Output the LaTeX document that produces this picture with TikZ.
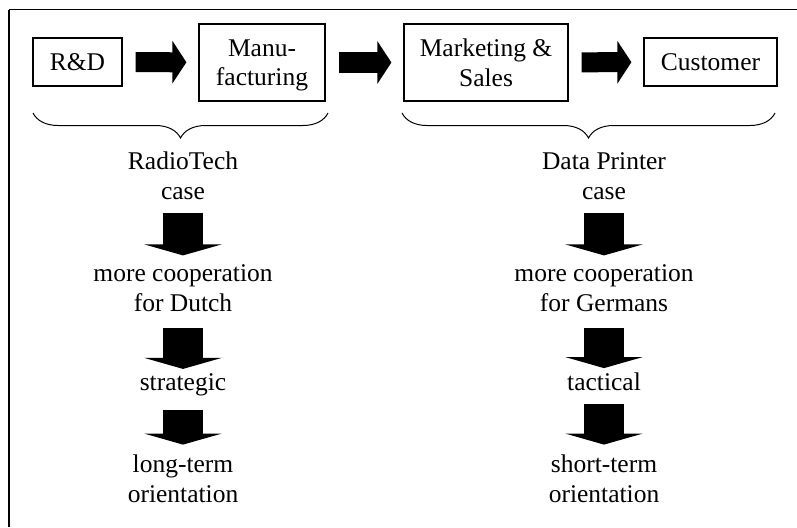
\documentclass[tikz,border=0pt]{standalone}
\usepackage{fontspec}
\setmainfont{Liberation Serif}
\usetikzlibrary{arrows.meta, decorations.pathreplacing}

\begin{document}
\begin{tikzpicture}[%
        x = 1pt, y = -1pt,
        line cap = butt,
        font = \fontsize{25.5}{29.5}\selectfont,
        box/.style = {draw, line width = 1.2pt, inner sep = 0pt, align = center, text depth = 0pt},
        stage/.style = {inner sep = 0pt, align = center, anchor = base},
        fatright/.style = {line width = 20pt, -{Triangle[width = 42pt, length = 14pt]},
            shorten < = 13pt, shorten > = 12pt},
        fatdown/.style = {line width = 40pt, -{Triangle[width = 77pt, length = 11pt]}},
        curly/.style = {decorate, decoration = {brace, mirror, amplitude = 25pt},
            line width = 1pt}
    ]
        \useasboundingbox (0, 0) rectangle (797, 527);

        % The frame, cut off at the right and at the bottom.
        \draw[line width = 1pt] (8.5, 10) to (797, 10);
        \draw[line width = 2pt] (8.5, 10) to (8.5, 527);

        % The value chain.
        \node[box, minimum width = 89pt, minimum height = 48pt] (rd) at (77.5, 62) {R\&D};
        \node[box, minimum width = 126pt, minimum height = 77pt] (manu) at (262, 62.5) {Manu-\\facturing};
        \node[box, minimum width = 164pt, minimum height = 77pt] (mkt) at (486, 62.5) {Marketing \&\\Sales};
        \node[box, minimum width = 133pt, minimum height = 48pt] (cust) at (710.5, 62) {Customer};

        \draw[fatright] (rd) to (manu);
        \draw[fatright] (manu) to (mkt);
        \draw[fatright] (mkt) to (cust);

        % Braces over the two cases.
        \draw[curly] (33, 113) to (328, 113);
        \draw[curly] (402, 113) to (775, 113);

        % The RadioTech column.
        \node[stage] (rt) at (183, 199) {RadioTech\\case};
        \node[stage] (rtcoop) at (183, 311) {more cooperation\\for Dutch};
        \node[stage] (rtkind) at (183, 390) {strategic};
        \node[stage] (rtterm) at (183, 502) {long-term\\orientation};

        \draw[fatdown, shorten < = 14pt, shorten > = 9pt] (rt) to (rtcoop);
        \draw[fatdown, shorten < = 17pt, shorten > = 4pt] (rtcoop) to (rtkind);
        \draw[fatdown, shorten < = 14pt, shorten > = 10pt] (rtkind) to (rtterm);

        % The Data Printer column.
        \node[stage] (dp) at (604, 199) {Data Printer\\case};
        \node[stage] (dpcoop) at (604, 311) {more cooperation\\for Germans};
        \node[stage] (dpkind) at (604, 390) {tactical};
        \node[stage] (dpterm) at (604, 502) {short-term\\orientation};

        \draw[fatdown, shorten < = 14pt, shorten > = 9pt] (dp) to (dpcoop);
        \draw[fatdown, shorten < = 17pt, shorten > = 4pt] (dpcoop) to (dpkind);
        \draw[fatdown, shorten < = 14pt, shorten > = 10pt] (dpkind) to (dpterm);
    \end{tikzpicture}
\end{document}
